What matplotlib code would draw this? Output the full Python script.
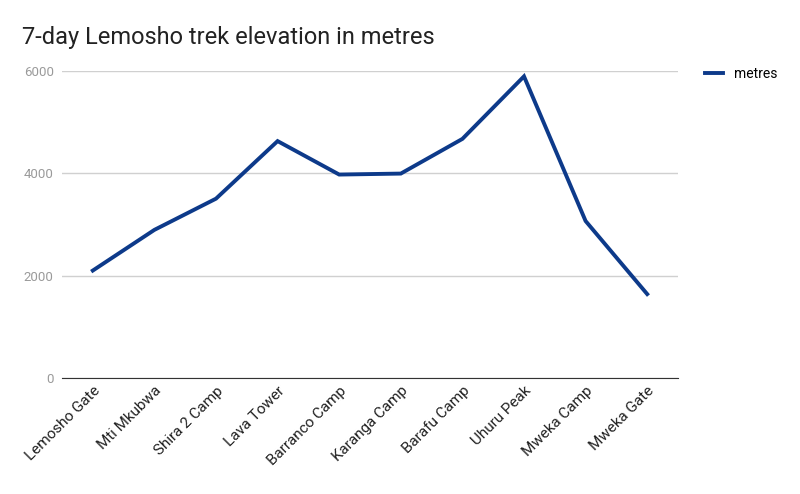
import matplotlib
matplotlib.use("Agg")
import matplotlib.pyplot as plt

categories = ["Lemosho Gate", "Mti Mkubwa", "Shira 2 Camp", "Lava Tower", "Barranco Camp",
              "Karanga Camp", "Barafu Camp", "Uhuru Peak", "Mweka Camp", "Mweka Gate"]
metres = [2100, 2895, 3505, 4630, 3976, 3995, 4673, 5895, 3068, 1640]
yticks = [0, 2000, 4000, 6000]

fig = plt.figure(figsize=(8, 4.94), dpi=100)
ax = fig.add_axes([0.0775, 0.2348, 0.77, 0.6215])
x = list(range(len(categories)))
line, = ax.plot(x, metres, color="#0d3a8a", lw=2.8, solid_joinstyle="miter")
ax.set_xlim(-0.5, len(categories) - 0.5)
ax.set_ylim(0, 6000)
ax.set_yticks(yticks)
ax.set_yticklabels([str(v) for v in yticks], color="#9a9a9a", fontsize=9.5, family="Roboto")
ax.grid(axis="y", color="#d0d0d0", lw=1)
ax.set_axisbelow(True)
for s in ["top", "right", "left"]:
    ax.spines[s].set_visible(False)
ax.spines["bottom"].set_color("#333333")
ax.tick_params(axis="y", length=0, pad=6)
ax.tick_params(axis="x", length=0, pad=4)
ax.set_xticks(x)
ax.set_xticklabels(categories, rotation=45, ha="right", rotation_mode="anchor",
                   fontsize=11, color="#222222", family="Roboto")
fig.text(0.0275, 0.925, "7-day Lemosho trek elevation in metres", fontsize=17,
         color="#222222", family="Roboto", va="center")
fig.legend([line], ["metres"], loc="upper left", bbox_to_anchor=(0.866, 0.89),
           frameon=False, handlelength=1.3, handletextpad=0.8,
           prop={"family": "Roboto", "size": 10})
fig.savefig("out.png", dpi=100)
